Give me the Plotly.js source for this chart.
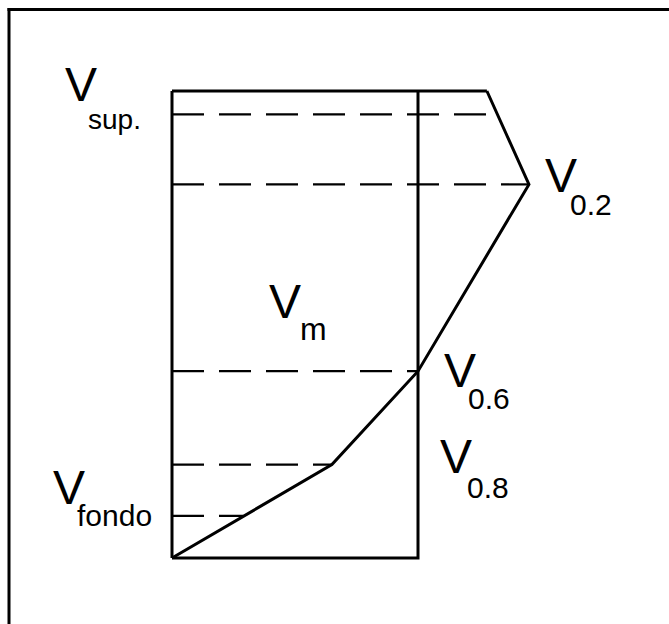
<!DOCTYPE html>
<html>
<head>
<meta charset="utf-8">
<script src="https://cdn.plot.ly/plotly-3.0.1.min.js"></script>
<style>
  html, body { margin: 0; padding: 0; background: #fff; }
  #chart { width: 669px; height: 624px; }
</style>
</head>
<body>
<div id="chart"></div>
<script>
// Velocity profile (velocity relative to mean velocity Vm, depth as fraction of total depth)
const profileDepth = [1.0, 0.8, 0.6, 0.2, 0.0];
const profileVel   = [0.0, 0.65, 1.0, 1.451, 1.28];

// Mean velocity Vm
const meanVel = 1.0;

// Measurement levels (dashed lines) and the velocity at each level
const levelNames = ["sup.", "0.2", "0.6", "0.8", "fondo"];
const levelDepth = [0.05, 0.2, 0.6, 0.8, 0.91];
const levelVel   = [1.323, 1.451, 1.0, 0.65, 0.29];

const W = 669, H = 624;
const black = "#000";
const traces = [];

// velocity profile curve
traces.push({
  x: profileVel, y: profileDepth, mode: "lines", type: "scatter",
  line: {color: black, width: 3}, hoverinfo: "skip"
});
// surface (top) line
traces.push({
  x: [0, profileVel[profileVel.length - 1]], y: [0, 0], mode: "lines",
  line: {color: black, width: 3}, hoverinfo: "skip"
});
// left side (zero velocity axis)
traces.push({
  x: [0, 0], y: [0, 1], mode: "lines",
  line: {color: black, width: 3}, hoverinfo: "skip"
});
// bottom + mean velocity rectangle
traces.push({
  x: [0, meanVel, meanVel], y: [1, 1, 0], mode: "lines",
  line: {color: black, width: 3}, hoverinfo: "skip"
});
// dashed measurement levels
levelDepth.forEach((d, i) => {
  traces.push({
    x: [0, levelVel[i]], y: [d, d], mode: "lines",
    line: {color: black, width: 2.2, dash: "32px,15px"}, hoverinfo: "skip"
  });
});

// pixel -> paper helpers (margins are zero)
const px = v => v / W;
const py = v => 1 - v / H;
const FONT = "Liberation Sans, Arial, sans-serif";
function lab(text, cx, cy, size) {
  return {
    text: text, xref: "paper", yref: "paper", x: px(cx), y: py(cy),
    xanchor: "center", yanchor: "middle", showarrow: false,
    font: {family: FONT, size: size, color: black}
  };
}
const BIG = 48, SUB = 30;
const annotations = [
  lab("V", 81, 85, BIG),   lab(levelNames[0], 114, 119, 28),
  lab("V", 561, 175, BIG), lab(levelNames[1], 591, 205, SUB),
  lab("V", 285, 301, BIG), lab("m", 313, 329, 32),
  lab("V", 460, 370, BIG), lab(levelNames[2], 489, 399, SUB),
  lab("V", 456, 456, BIG), lab(levelNames[3], 488, 487, SUB),
  lab("V", 69, 487, BIG),  lab(levelNames[4], 115, 515, SUB)
];

// frame (left and top edges of the scanned figure)
const shapes = [
  {type: "line", xref: "paper", yref: "paper", x0: px(9), x1: px(9), y0: 0, y1: py(8), line: {color: black, width: 3}},
  {type: "line", xref: "paper", yref: "paper", x0: px(7.5), x1: 1, y0: py(9.5), y1: py(9.5), line: {color: black, width: 3}}
];

// axis ranges chosen so that velocity 0 -> x=172px, Vm -> 418px, depth 0 -> y=91px, depth 1 -> y=558px
const x0px = 172, vmPx = 246, y0px = 91, depthPx = 467;
const layout = {
  width: W, height: H,
  margin: {l: 0, r: 0, t: 0, b: 0},
  paper_bgcolor: "#fff", plot_bgcolor: "#fff",
  showlegend: false,
  xaxis: {range: [-x0px / vmPx, (W - x0px) / vmPx], visible: false, fixedrange: true},
  yaxis: {range: [(H - y0px) / depthPx, -y0px / depthPx], visible: false, fixedrange: true},
  annotations: annotations,
  shapes: shapes
};
Plotly.newPlot("chart", traces, layout, {displayModeBar: false, staticPlot: true});
</script>
</body>
</html>
